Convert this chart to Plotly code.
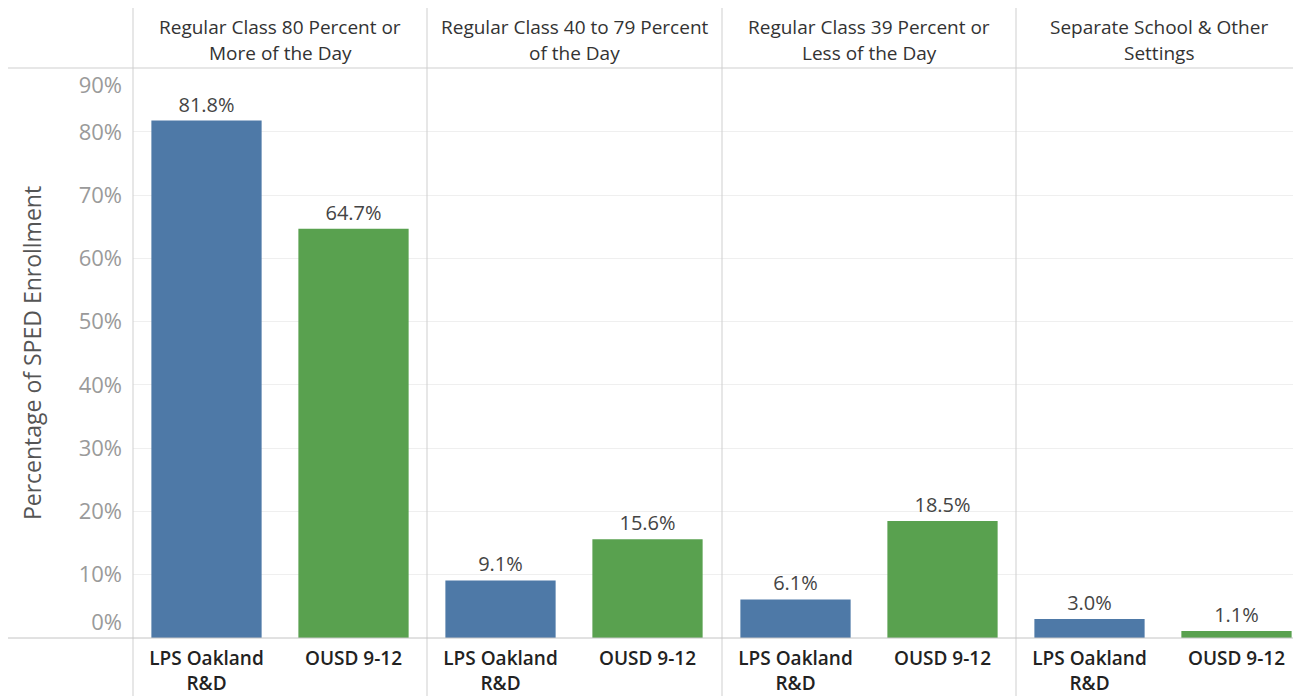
import plotly.graph_objects as go
from plotly.subplots import make_subplots

# Dati
settings = [
    "Regular Class 80 Percent or<br>More of the Day",
    "Regular Class 40 to 79 Percent<br>of the Day",
    "Regular Class 39 Percent or<br>Less of the Day",
    "Separate School & Other<br>Settings",
]
groups = ["LPS Oakland<br>R&D", "OUSD 9-12"]
lps_values = [81.8, 9.1, 6.1, 3.0]
ousd_values = [64.7, 15.6, 18.5, 1.1]
y_ticks = [0, 10, 20, 30, 40, 50, 60, 70, 80, 90]
y_tick_labels = ["0%", "10%", "20%", "30%", "40%", "50%", "60%", "70%", "80%", "90%"]

BLUE = "#4e79a7"
GREEN = "#59a14f"
FONT = "Open Sans, Lato, sans-serif"

# la pagina ha un margine di 8px: la figura parte da (8, 8)
W, H = 1293, 688
M_L, M_R, M_T, M_B = 125, 0, 60, 58
panel_px = [294, 295, 294, 285]
slot_px = 147
y_max = 90.1

fig = make_subplots(rows=1, cols=4, shared_yaxes=True,
                    column_widths=panel_px, horizontal_spacing=0)

for i in range(4):
    vals = [lps_values[i], ousd_values[i]]
    fig.add_trace(go.Bar(
        x=groups, y=vals,
        marker=dict(color=[BLUE, GREEN], line=dict(width=0)),
        width=0.75,
        text=[f"{v:.1f}%" for v in vals],
        textposition="outside",
        textfont=dict(family=FONT, size=20, color="#444"),
        cliponaxis=False,
        showlegend=False,
        hovertemplate="%{x}: %{y:.1f}%<extra></extra>",
    ), row=1, col=i + 1)
    span = panel_px[i] / slot_px
    fig.update_xaxes(range=[-0.5, -0.5 + span], row=1, col=i + 1)

fig.update_xaxes(
    showgrid=False, zeroline=False, showline=False, ticks="",
    ticklabelstandoff=7,
    tickfont=dict(family=FONT, size=19, color="#222", weight=600),
)

# Griglia sugli assi dei pannelli, etichette su un asse sovrapposto
fig.update_yaxes(
    range=[0, y_max], tickvals=y_ticks[1:-1], showticklabels=False,
    showgrid=True, gridcolor="#efefef", gridwidth=1,
    zeroline=False, showline=False, ticks="",
)
label_pos = list(y_ticks)
label_pos[0] = 2.5
label_pos[-1] = 87.3
fig.update_layout(
    yaxis5=dict(
        overlaying="y", anchor="x", side="left", range=[0, y_max],
        tickvals=label_pos, ticktext=y_tick_labels,
        showgrid=False, zeroline=False, showline=False, ticks="",
        tickfont=dict(family=FONT, size=22, color="#9a9a9a"),
        ticklabelstandoff=10,
        title=dict(text="Percentage of SPED Enrollment",
                   font=dict(family=FONT, size=23, color="#555"),
                   standoff=30),
    )
)
fig.add_trace(go.Scatter(x=[], y=[], xaxis="x", yaxis="y5", showlegend=False))

# Intestazioni dei pannelli
x0 = 0.0
plot_w = W - M_L - M_R
plot_h = H - M_T - M_B
for i, label in enumerate(settings):
    cx = (x0 + panel_px[i] / 2) / plot_w
    for j, line in enumerate(label.split("<br>")):
        fig.add_annotation(
            text=line, xref="paper", yref="paper",
            x=cx, y=1 + (41 - 26 * j) / plot_h,
            xanchor="center", yanchor="middle", showarrow=False,
            font=dict(family=FONT, size=19, color="#333"),
        )
    x0 += panel_px[i]

# Linee di separazione
line_style = dict(color="#cfcfcf", width=1)
x0 = 0.0
for w in panel_px[:-1]:
    fig.add_shape(type="line", xref="paper", yref="paper",
                  x0=x0 / plot_w, x1=x0 / plot_w,
                  y0=-M_B / plot_h, y1=1 + 60 / plot_h, line=line_style)
    x0 += w
fig.add_shape(type="line", xref="paper", yref="paper",
              x0=x0 / plot_w, x1=x0 / plot_w,
              y0=-M_B / plot_h, y1=1 + 60 / plot_h, line=line_style)
fig.add_shape(type="line", xref="paper", yref="paper",
              x0=-M_L / plot_w, x1=1, y0=1, y1=1, line=line_style)
fig.add_shape(type="line", xref="paper", yref="paper",
              x0=-M_L / plot_w, x1=1, y0=0, y1=0,
              line=dict(color="#c4c4c4", width=1))

fig.update_layout(
    width=W, height=H,
    margin=dict(l=M_L, r=M_R, t=M_T, b=M_B),
    plot_bgcolor="white", paper_bgcolor="white",
    bargap=0.25,
    font=dict(family=FONT),
)

fig.write_html("out.html")
